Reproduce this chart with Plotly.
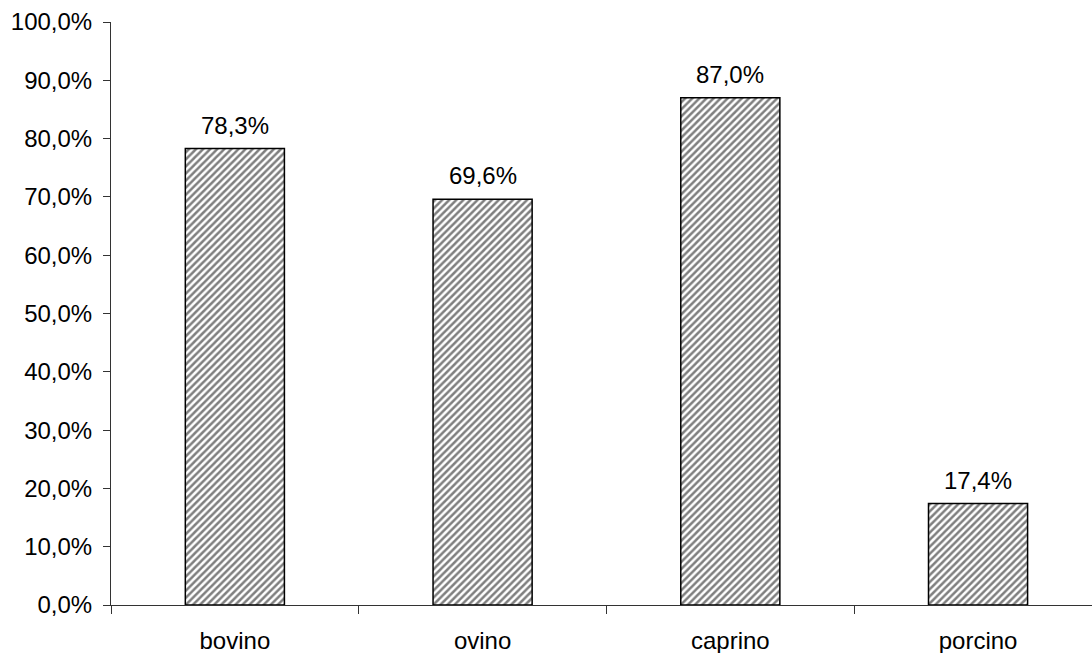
import plotly.graph_objects as go

categories = ["bovino", "ovino", "caprino", "porcino"]
values = [78.3, 69.6, 87.0, 17.4]
y_ticks = [0, 10, 20, 30, 40, 50, 60, 70, 80, 90, 100]
y_tick_labels = ["0,0%", "10,0%", "20,0%", "30,0%", "40,0%", "50,0%",
                 "60,0%", "70,0%", "80,0%", "90,0%", "100,0%"]

FONT = "Liberation Sans, Arial, sans-serif"


def pct(v):
    return f"{v:.1f}".replace(".", ",") + "%"


fig = go.Figure(
    go.Bar(
        x=categories,
        y=values,
        width=0.4,
        marker=dict(
            color="white",
            line=dict(color="black", width=1.5),
            pattern=dict(shape="/", size=5, solidity=0.5,
                         fgcolor="black", bgcolor="white"),
        ),
    )
)

# value labels above each bar
for c, v in zip(categories, values):
    fig.add_annotation(
        x=c, y=v, text=pct(v), showarrow=False,
        yanchor="bottom", yshift=8,
        font=dict(family=FONT, size=24, color="black"),
    )

fig.update_layout(
    width=1092,
    height=653,
    margin=dict(l=111, r=0, t=22, b=48),
    paper_bgcolor="white",
    plot_bgcolor="white",
    showlegend=False,
    font=dict(family=FONT, size=24, color="black"),
)

fig.update_xaxes(
    range=[-0.5, 3.46],
    tickson="boundaries",
    ticks="outside",
    ticklen=8,
    tickcolor="#333",
    showline=True,
    linecolor="#333",
    linewidth=1,
    showgrid=False,
    ticklabelstandoff=14,
    tickfont=dict(family=FONT, size=24, color="black"),
)

fig.update_yaxes(
    range=[0, 100],
    tickmode="array",
    tickvals=y_ticks,
    ticktext=y_tick_labels,
    ticks="outside",
    ticklen=7,
    tickcolor="#333",
    showline=True,
    linecolor="#333",
    linewidth=1,
    showgrid=False,
    zeroline=False,
    ticklabelstandoff=6,
    tickfont=dict(family=FONT, size=24, color="black"),
)

fig.write_html("out.html")
